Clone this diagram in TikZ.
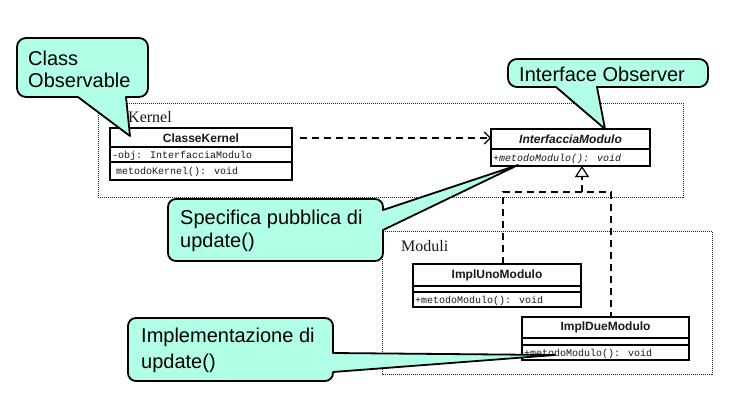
\documentclass[tikz,border=0pt]{standalone}
\usepackage{fontspec}
\setmainfont{Liberation Sans}
\newfontfamily\seriff{Liberation Serif}
\newfontfamily\monof{Liberation Mono}
\usetikzlibrary{arrows.meta}
\definecolor{callfill}{RGB}{176,255,230}
\definecolor{ink}{RGB}{25,25,25}
\tikzset{
  pkg/.style={draw=black!85, line width=1pt, dash pattern=on 1pt off 1pt},
  pkgname/.style={font=\seriff\fontsize{16}{18}\selectfont, anchor=base west, inner sep=0pt, text=ink},
  umlbox/.style={draw=black, line width=1.3pt, fill=white, inner sep=0pt, outer sep=0pt, anchor=north west},
  divider/.style={draw=black, line width=1.1pt},
  clsname/.style={font=\bfseries\fontsize{12}{14}\selectfont, inner sep=0pt, text=ink},
  member/.style={font=\monof\fontsize{10}{12}\selectfont, inner sep=0pt, anchor=base west, text=ink},
  depline/.style={draw=black, line width=1.2pt, dash pattern=on 7pt off 5pt},
  callout/.style={draw=black, fill=callfill, line width=1.8pt, line join=round},
  calltext/.style={font=\fontsize{20}{#1}\selectfont, align=left, inner sep=0pt, anchor=north west, text=black},
  calltext/.default=22
}
\begin{document}
\begin{tikzpicture}[x=1pt,y=-1pt]
\useasboundingbox (0,0) rectangle (743,407);
\fill[white] (0,0) rectangle (743,407);

% packages
\draw[pkg] (98,103) rectangle (683,197);
\node[pkgname] (kernel) at (128,122) {Kernel};
\draw[pkg] (382,231) rectangle (712,374);
\node[pkgname] (moduli) at (401,251) {Moduli};

% ClasseKernel
\node[umlbox, minimum width=182pt, minimum height=52pt] (ck) at (110,128) {};
\draw[divider] (110,147) -- (292,147);
\draw[divider] (110,162) -- (292,162);
\node[clsname] (ckname) at (201,138) {ClasseKernel};
\node[member] (ckattr) at (112,158) {-obj: InterfacciaModulo};
\node[member] (ckop) at (116,174.5) {metodoKernel(): void};

% InterfacciaModulo
\node[umlbox, minimum width=159pt, minimum height=37pt] (im) at (491,129) {};
\draw[divider] (491,149) -- (650,149);
\node[clsname, font=\bfseries\itshape\fontsize{12}{14}\selectfont] (imname) at (570.5,139) {InterfacciaModulo};
\node[member, font=\monof\itshape\fontsize{10}{12}\selectfont] (imop) at (493,161) {+metodoModulo(): void};

% ImplUnoModulo
\node[umlbox, minimum width=168pt, minimum height=43pt] (iu) at (413,264) {};
\draw[divider] (413,286) -- (581,286);
\draw[divider] (413,292) -- (581,292);
\node[clsname] (iuname) at (497,275) {ImplUnoModulo};
\node[member] (iuop) at (415,303) {+metodoModulo(): void};

% ImplDueModulo
\node[umlbox, minimum width=167pt, minimum height=43pt] (id) at (522,317) {};
\draw[divider] (522,338) -- (689,338);
\draw[divider] (522,345) -- (689,345);
\node[clsname] (idname) at (605.5,327.5) {ImplDueModulo};
\node[member] (idop) at (524,356) {+metodoModulo(): void};

% dependency
\draw[depline, -{Straight Barb[length=6pt,width=12pt,line width=1.2pt]}, shorten <=8pt]
  (ckname -| ck.east) -- (ckname -| im.west);

% realization
\coordinate (ja) at (503,192);
\coordinate (jm) at (582,192);
\coordinate (jb) at (611,192);
\draw[depline] (iu.north -| ja) -- (ja) -- (jb) -- (id.north -| jb);
\draw[depline, -{Triangle[open,length=11pt,width=14pt,line width=1.2pt]}] (jm) -- (jm |- im.south);

% callouts
\draw[callout] (126,97) [rounded corners=9pt] -- (148,97) -- (148,38) -- (17,38) -- (17,97)
  [sharp corners] -- (78,97) -- (130,136) -- cycle;
\node[calltext] (cobs) at (28,50.5) {Class\\Observable};

\draw[callout] (597,87) [rounded corners=9pt] -- (708,87) -- (708,59) -- (508,59) -- (508,87)
  [sharp corners] -- (556,87) -- (605,129) -- cycle;
\node[calltext, anchor=base west] (iobs) at (519,81) {Interface Observer};

\draw[callout] (383,230) [rounded corners=8pt] -- (383,261) -- (168,261) -- (168,199) -- (383,199)
  [sharp corners] -- (383,210) -- (518,165) -- cycle;
\node[calltext=23] (spec) at (180,209.7) {Specifica pubblica di\\update()};

\draw[callout] (333,372) [rounded corners=8pt] -- (333,381) -- (128,381) -- (128,318) -- (333,318)
  [sharp corners] -- (333,353) -- (555,355) -- cycle;
\node[calltext=26] (impl) at (141,327.7) {Implementazione di\\update()};
\end{tikzpicture}
\end{document}
